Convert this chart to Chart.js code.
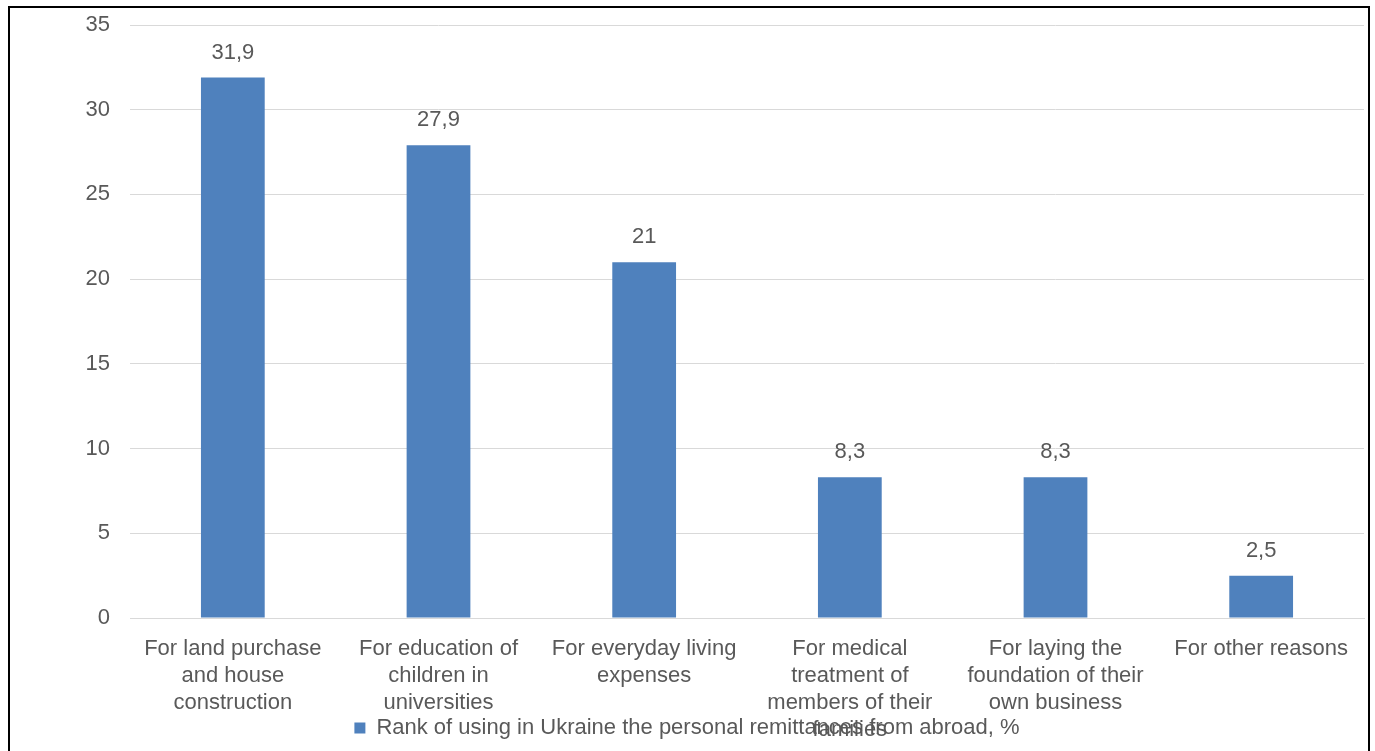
<!DOCTYPE html>
<html>
<head>
<meta charset="utf-8">
<script src="https://cdn.jsdelivr.net/npm/chart.js@4.4.1/dist/chart.umd.min.js"></script>
<style>
  html, body { margin: 0; padding: 0; background: #fff; overflow: hidden; }
  #frame {
    position: absolute; left: 8px; top: 6px;
    width: 1358px; height: 800px;
    border: 2px solid #000;
  }
  #wrap { position: relative; width: 1358px; height: 788px; }
</style>
</head>
<body>
<div id="frame"><div id="wrap"><canvas id="chart"></canvas></div></div>
<script>
const categories = [
  ["For land purchase", "and house", "construction"],
  ["For education of", "children in", "universities"],
  ["For everyday living", "expenses"],
  ["For medical", "treatment of", "members of their", "families"],
  ["For laying the", "foundation of their", "own business"],
  ["For other reasons"]
];
const values = [31.9, 27.9, 21, 8.3, 8.3, 2.5];
const seriesName = "Rank of using in Ukraine the personal remittances from abroad, %";
const yTicks = [0, 5, 10, 15, 20, 25, 30, 35];

const textColor = "#595959";
const font = { family: "'Liberation Sans', Arial, sans-serif", size: 22, lineHeight: "27px" };

const valueLabels = {
  id: "valueLabels",
  afterDatasetsDraw(chart) {
    const ctx = chart.ctx;
    const meta = chart.getDatasetMeta(0);
    ctx.save();
    ctx.font = `${font.size}px ${font.family}`;
    ctx.fillStyle = textColor;
    ctx.textAlign = "center";
    ctx.textBaseline = "middle";
    meta.data.forEach((bar, i) => {
      ctx.fillText(String(values[i]).replace(".", ","), bar.x, bar.y - 25);
    });
    ctx.restore();
  }
};

// the legend sits on top of the last line of the category labels, as in the original
const legendUp = {
  id: "legendUp",
  afterLayout(chart) {
    chart.legend.top -= 47;
    chart.legend.bottom -= 47;
  }
};

new Chart(document.getElementById("chart"), {
  type: "bar",
  data: {
    labels: categories,
    datasets: [{
      label: seriesName,
      data: values,
      backgroundColor: "#4f81bd",
      categoryPercentage: 1,
      barPercentage: 0.31
    }]
  },
  options: {
    responsive: true,
    maintainAspectRatio: false,
    animation: false,
    layout: { padding: { top: 17, right: 4, left: 0, bottom: 0 } },
    plugins: {
      tooltip: { enabled: false },
      legend: {
        position: "bottom",
        labels: {
          color: textColor,
          font: font,
          boxWidth: 11,
          boxHeight: 11,
          padding: 4
        }
      }
    },
    scales: {
      x: {
        grid: { display: false, drawTicks: false },
        border: { color: "#d9d9d9", width: 1 },
        ticks: { color: textColor, font: font, maxRotation: 0, autoSkip: false, padding: 17 }
      },
      y: {
        min: 0,
        max: 35,
        afterBuildTicks(scale) { scale.ticks = yTicks.map(v => ({ value: v })); },
        grid: { color: "#d9d9d9", drawTicks: false },
        border: { display: false },
        ticks: { color: textColor, font: font, padding: 20 },
        afterFit(scale) {
          scale.width = 120;
          scale.paddingTop = 0;
          scale.paddingBottom = 0;
        }
      }
    }
  },
  plugins: [valueLabels, legendUp]
});
</script>
</body>
</html>
